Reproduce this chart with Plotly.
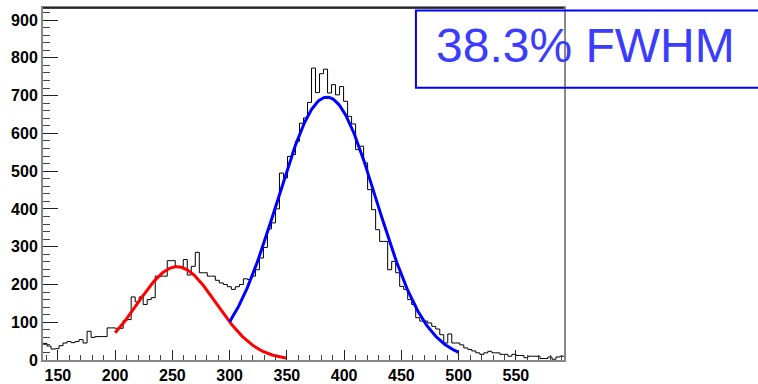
import plotly.graph_objects as go
import math

# ---- data ----
bin_start = 137.0
bin_width = 3.5
counts = [
    44, 37, 29, 30, 38, 45, 49, 46, 49, 54,
    45, 76, 60, 62, 62, 62, 85, 85, 84, 84,
    105, 107, 167, 154, 167, 147, 160, 165, 222, 222,
    222, 263, 263, 248, 246, 266, 225, 248, 285, 231,
    231, 222, 222, 211, 204, 200, 194, 187, 194, 200,
    215, 213, 222, 239, 270, 298, 347, 363, 400, 495,
    482, 539, 544, 579, 627, 641, 682, 773, 708, 758,
    770, 707, 729, 702, 724, 685, 645, 625, 557, 566,
    522, 451, 398, 345, 314, 314, 239, 261, 231, 195,
    187, 160, 147, 112, 103, 103, 98, 89, 82, 67,
    45, 69, 45, 45, 40, 32, 28, 24, 19, 15,
    19, 23, 19, 19, 15, 15, 10, 15, 12, 12,
    6, 10, 10, 10, 4, 4, 8, 2, 8, 10,
]

# Gaussian fit parameters (amplitude, mean, sigma, fit range)
red_fit = dict(amp=247, mean=254, sigma=34.4, lo=200, hi=350)
blue_fit = dict(amp=696, mean=385, sigma=43.3, lo=300, hi=500)

label_text = "38.3% FWHM"

x_range = [137, 592]
y_range = [0, 932]

# ---- build figure ----
edges = [bin_start + bin_width * i for i in range(len(counts) + 1)]
step_y = counts + [counts[-1]]


def gauss_curve(p, n=200):
    xs = [p["lo"] + (p["hi"] - p["lo"]) * k / n for k in range(n + 1)]
    ys = [p["amp"] * math.exp(-0.5 * ((x - p["mean"]) / p["sigma"]) ** 2) for x in xs]
    return xs, ys


fig = go.Figure()
fig.add_trace(go.Scatter(x=edges, y=step_y, mode="lines", line=dict(shape="hv", color="black", width=1),
                         hoverinfo="skip"))
rx, ry = gauss_curve(red_fit)
fig.add_trace(go.Scatter(x=rx, y=ry, mode="lines", line=dict(color="#ff0000", width=3), hoverinfo="skip"))
bx, by = gauss_curve(blue_fit)
fig.add_trace(go.Scatter(x=bx, y=by, mode="lines", line=dict(color="#0000ff", width=3), hoverinfo="skip"))

tickfont = dict(family="Liberation Sans, Arial, sans-serif", size=16, color="black", weight="bold")

fig.update_layout(
    width=758, height=384,
    margin=dict(l=43, r=194, t=8, b=24),
    paper_bgcolor="white", plot_bgcolor="white",
    showlegend=False,
    xaxis=dict(range=x_range, tick0=150, dtick=50, ticks="inside", ticklen=10, tickwidth=1,
               tickcolor="#222", showgrid=False, zeroline=False, showline=True, linecolor="#888",
               linewidth=2, mirror=True, tickfont=tickfont, automargin=False,
               minor=dict(ticks="inside", ticklen=5, dtick=10, tickcolor="#444", showgrid=False)),
    yaxis=dict(range=y_range, tick0=0, dtick=100, ticks="inside", ticklen=15, tickwidth=1,
               tickcolor="#222", showgrid=False, zeroline=False, showline=True, linecolor="#888",
               linewidth=2, mirror=True, tickfont=tickfont, automargin=False,
               minor=dict(ticks="inside", ticklen=7, dtick=20, tickcolor="#444", showgrid=False)),
)

# black top frame line
fig.add_shape(type="line", xref="paper", yref="paper", x0=0, x1=1, y0=1, y1=1,
              line=dict(color="black", width=1.5))

# label box
fig.add_shape(type="rect", xref="paper", yref="paper", x0=0.7158, x1=1.40, y0=0.7737, y1=0.993,
              line=dict(color="#0000ff", width=2), fillcolor="rgba(0,0,0,0)", layer="above")
fig.add_annotation(xref="paper", yref="paper", x=(434.5 - 43.3) / 520.7, y=(360.5 - 46) / 352.2,
                   xanchor="left", yanchor="middle", showarrow=False, text=label_text,
                   font=dict(family="Liberation Sans, Arial, sans-serif", size=48, color="#3c3cff"))

fig.write_html("out.html", post_script="document.body.style.margin='0px';",
               config={"displayModeBar": False})
